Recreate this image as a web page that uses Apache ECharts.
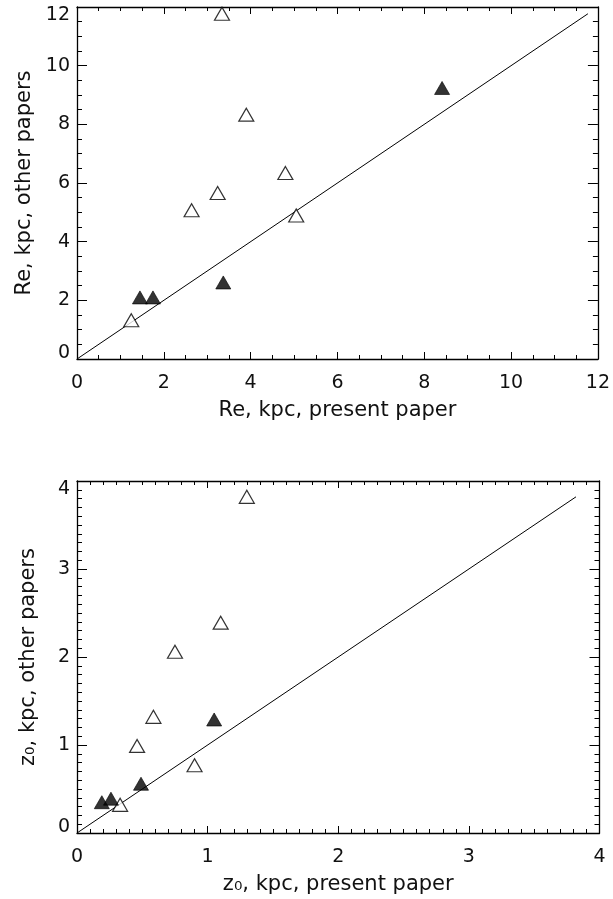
<!DOCTYPE html>
<html>
<head>
<meta charset="utf-8">
<script src="https://cdn.jsdelivr.net/npm/echarts@6/dist/echarts.min.js"></script>
<style>
html,body{margin:0;padding:0;background:#fff;}
#chart{width:613px;height:899px;}
</style>
</head>
<body>
<div id="chart"></div>
<script>
// ---- Top panel: Re (kpc) ----
var reOpenX   = [1.25, 2.64, 3.24, 3.34, 3.90, 4.80, 5.05];
var reOpenY   = [1.32, 5.07, 5.66, 11.77, 8.33, 6.34, 4.89];
var reFilledX = [1.45, 1.75, 3.37, 8.41];
var reFilledY = [2.10, 2.10, 2.61, 9.24];
var reLine    = [0, 11.77];           // one-to-one line, x = y
var reTicks   = [0, 2, 4, 6, 8, 10, 12];

// ---- Bottom panel: z0 (kpc) ----
var zOpenX    = [1.30, 1.10, 0.75, 0.585, 0.46, 0.90, 0.33];
var zOpenY    = [3.82, 2.39, 2.06, 1.32, 0.99, 0.77, 0.32];
var zFilledX  = [0.19, 0.26, 0.49, 1.05];
var zFilledY  = [0.35, 0.39, 0.56, 1.29];
var zLine     = [0, 3.82];            // one-to-one line, x = y
var zTicks    = [0, 1, 2, 3, 4];

function pairs(xs, ys){ return xs.map(function(x,i){ return [x, ys[i]]; }); }

var FONT = 'DejaVu Sans';
var TXT = '#111';

function yLabelFmt(min, max){
  return function(v){
    if (v === min) return '{lo|' + v + '}';
    if (v === max) return '{hi|' + v + '}';
    return String(v);
  };
}
var labRich = {
  lo: {fontFamily: FONT, fontSize: 19, color: TXT, padding: [0,0,12,0]},
  hi: {fontFamily: FONT, fontSize: 19, color: TXT, padding: [16,0,0,0]}
};

function mainX(grid, min, max, interval, minorSplit, name){
  return {
    type: 'value', gridIndex: grid, position: 'bottom',
    min: min, max: max, interval: interval,
    name: name, nameLocation: 'middle', nameGap: 41,
    nameTextStyle: {fontFamily: FONT, fontSize: 21, color: TXT},
    axisLine: {show: true, onZero: false, lineStyle: {color: '#000', width: 1.3}},
    axisTick: {show: true, inside: true, length: 7, lineStyle: {color: '#000', width: 1}},
    minorTick: {show: true, splitNumber: minorSplit, length: 4, lineStyle: {color: '#000', width: 1}},
    splitLine: {show: false}, minorSplitLine: {show: false},
    axisLabel: {show: true, margin: 15, fontFamily: FONT, fontSize: 19, color: TXT}
  };
}
function mirrorX(grid, min, max, interval, minorSplit){
  return {
    type: 'value', gridIndex: grid, position: 'top',
    min: min, max: max, interval: interval,
    axisLine: {show: true, onZero: false, lineStyle: {color: '#000', width: 1.3}},
    axisTick: {show: true, inside: true, length: 7, lineStyle: {color: '#000', width: 1}},
    minorTick: {show: true, splitNumber: minorSplit, length: 4, lineStyle: {color: '#000', width: 1}},
    splitLine: {show: false}, minorSplitLine: {show: false},
    axisLabel: {show: false}
  };
}
function mainY(grid, min, max, interval, minorSplit, name){
  return {
    type: 'value', gridIndex: grid, position: 'left',
    min: min, max: max, interval: interval,
    name: name, nameLocation: 'middle', nameGap: 38, nameRotate: 90,
    nameTextStyle: {fontFamily: FONT, fontSize: 21, color: TXT},
    axisLine: {show: true, onZero: false, lineStyle: {color: '#000', width: 1.3}},
    axisTick: {show: true, inside: true, length: 10, lineStyle: {color: '#000', width: 1}},
    minorTick: {show: true, splitNumber: minorSplit, length: 5, lineStyle: {color: '#000', width: 1}},
    splitLine: {show: false}, minorSplitLine: {show: false},
    axisLabel: {show: true, margin: 7, fontFamily: FONT, fontSize: 19, color: TXT,
      formatter: yLabelFmt(min, max), rich: labRich}
  };
}
function mirrorY(grid, min, max, interval, minorSplit){
  return {
    type: 'value', gridIndex: grid, position: 'right',
    min: min, max: max, interval: interval,
    axisLine: {show: true, onZero: false, lineStyle: {color: '#000', width: 1.3}},
    axisTick: {show: true, inside: true, length: 10, lineStyle: {color: '#000', width: 1}},
    minorTick: {show: true, splitNumber: minorSplit, length: 5, lineStyle: {color: '#000', width: 1}},
    splitLine: {show: false}, minorSplitLine: {show: false},
    axisLabel: {show: false}
  };
}

var openStyle = {color: '#fff', borderColor: '#000', borderWidth: 1.2};
var filledStyle = {color: '#000', borderColor: '#000', borderWidth: 0.8};

var option = {
  backgroundColor: '#fff',
  animation: false,
  grid: [
    {left: 77, right: 13.5, top: 7, height: 352},
    {left: 77, right: 13.5, top: 481, height: 352}
  ],
  xAxis: [
    mainX(0, reTicks[0], reTicks[reTicks.length-1], 2, 4, 'Re, kpc, present paper'),
    mirrorX(0, reTicks[0], reTicks[reTicks.length-1], 2, 4),
    mainX(1, zTicks[0], zTicks[zTicks.length-1], 1, 10, 'z\u2080, kpc, present paper'),
    mirrorX(1, zTicks[0], zTicks[zTicks.length-1], 1, 10)
  ],
  yAxis: [
    mainY(0, reTicks[0], reTicks[reTicks.length-1], 2, 4, 'Re, kpc, other papers'),
    mirrorY(0, reTicks[0], reTicks[reTicks.length-1], 2, 4),
    mainY(1, zTicks[0], zTicks[zTicks.length-1], 1, 10, 'z\u2080, kpc, other papers'),
    mirrorY(1, zTicks[0], zTicks[zTicks.length-1], 1, 10)
  ],
  series: [
    {type: 'line', xAxisIndex: 0, yAxisIndex: 0, data: pairs(reLine, reLine),
     symbol: 'none', lineStyle: {color: '#000', width: 1}, silent: true, z: 1},
    {type: 'scatter', xAxisIndex: 0, yAxisIndex: 0, data: pairs(reOpenX, reOpenY),
     symbol: 'triangle', symbolSize: [15, 13], itemStyle: openStyle, z: 3},
    {type: 'scatter', xAxisIndex: 0, yAxisIndex: 0, data: pairs(reFilledX, reFilledY),
     symbol: 'triangle', symbolSize: [15, 13], itemStyle: filledStyle, z: 3},
    {type: 'line', xAxisIndex: 2, yAxisIndex: 2, data: pairs(zLine, zLine),
     symbol: 'none', lineStyle: {color: '#000', width: 1}, silent: true, z: 1},
    {type: 'scatter', xAxisIndex: 2, yAxisIndex: 2, data: pairs(zOpenX, zOpenY),
     symbol: 'triangle', symbolSize: [15, 13], itemStyle: openStyle, z: 3},
    {type: 'scatter', xAxisIndex: 2, yAxisIndex: 2, data: pairs(zFilledX, zFilledY),
     symbol: 'triangle', symbolSize: [15, 13], itemStyle: filledStyle, z: 3}
  ]
};

var chart = echarts.init(document.getElementById('chart'), null, {renderer: 'canvas'});
chart.setOption(option);
</script>
</body>
</html>
